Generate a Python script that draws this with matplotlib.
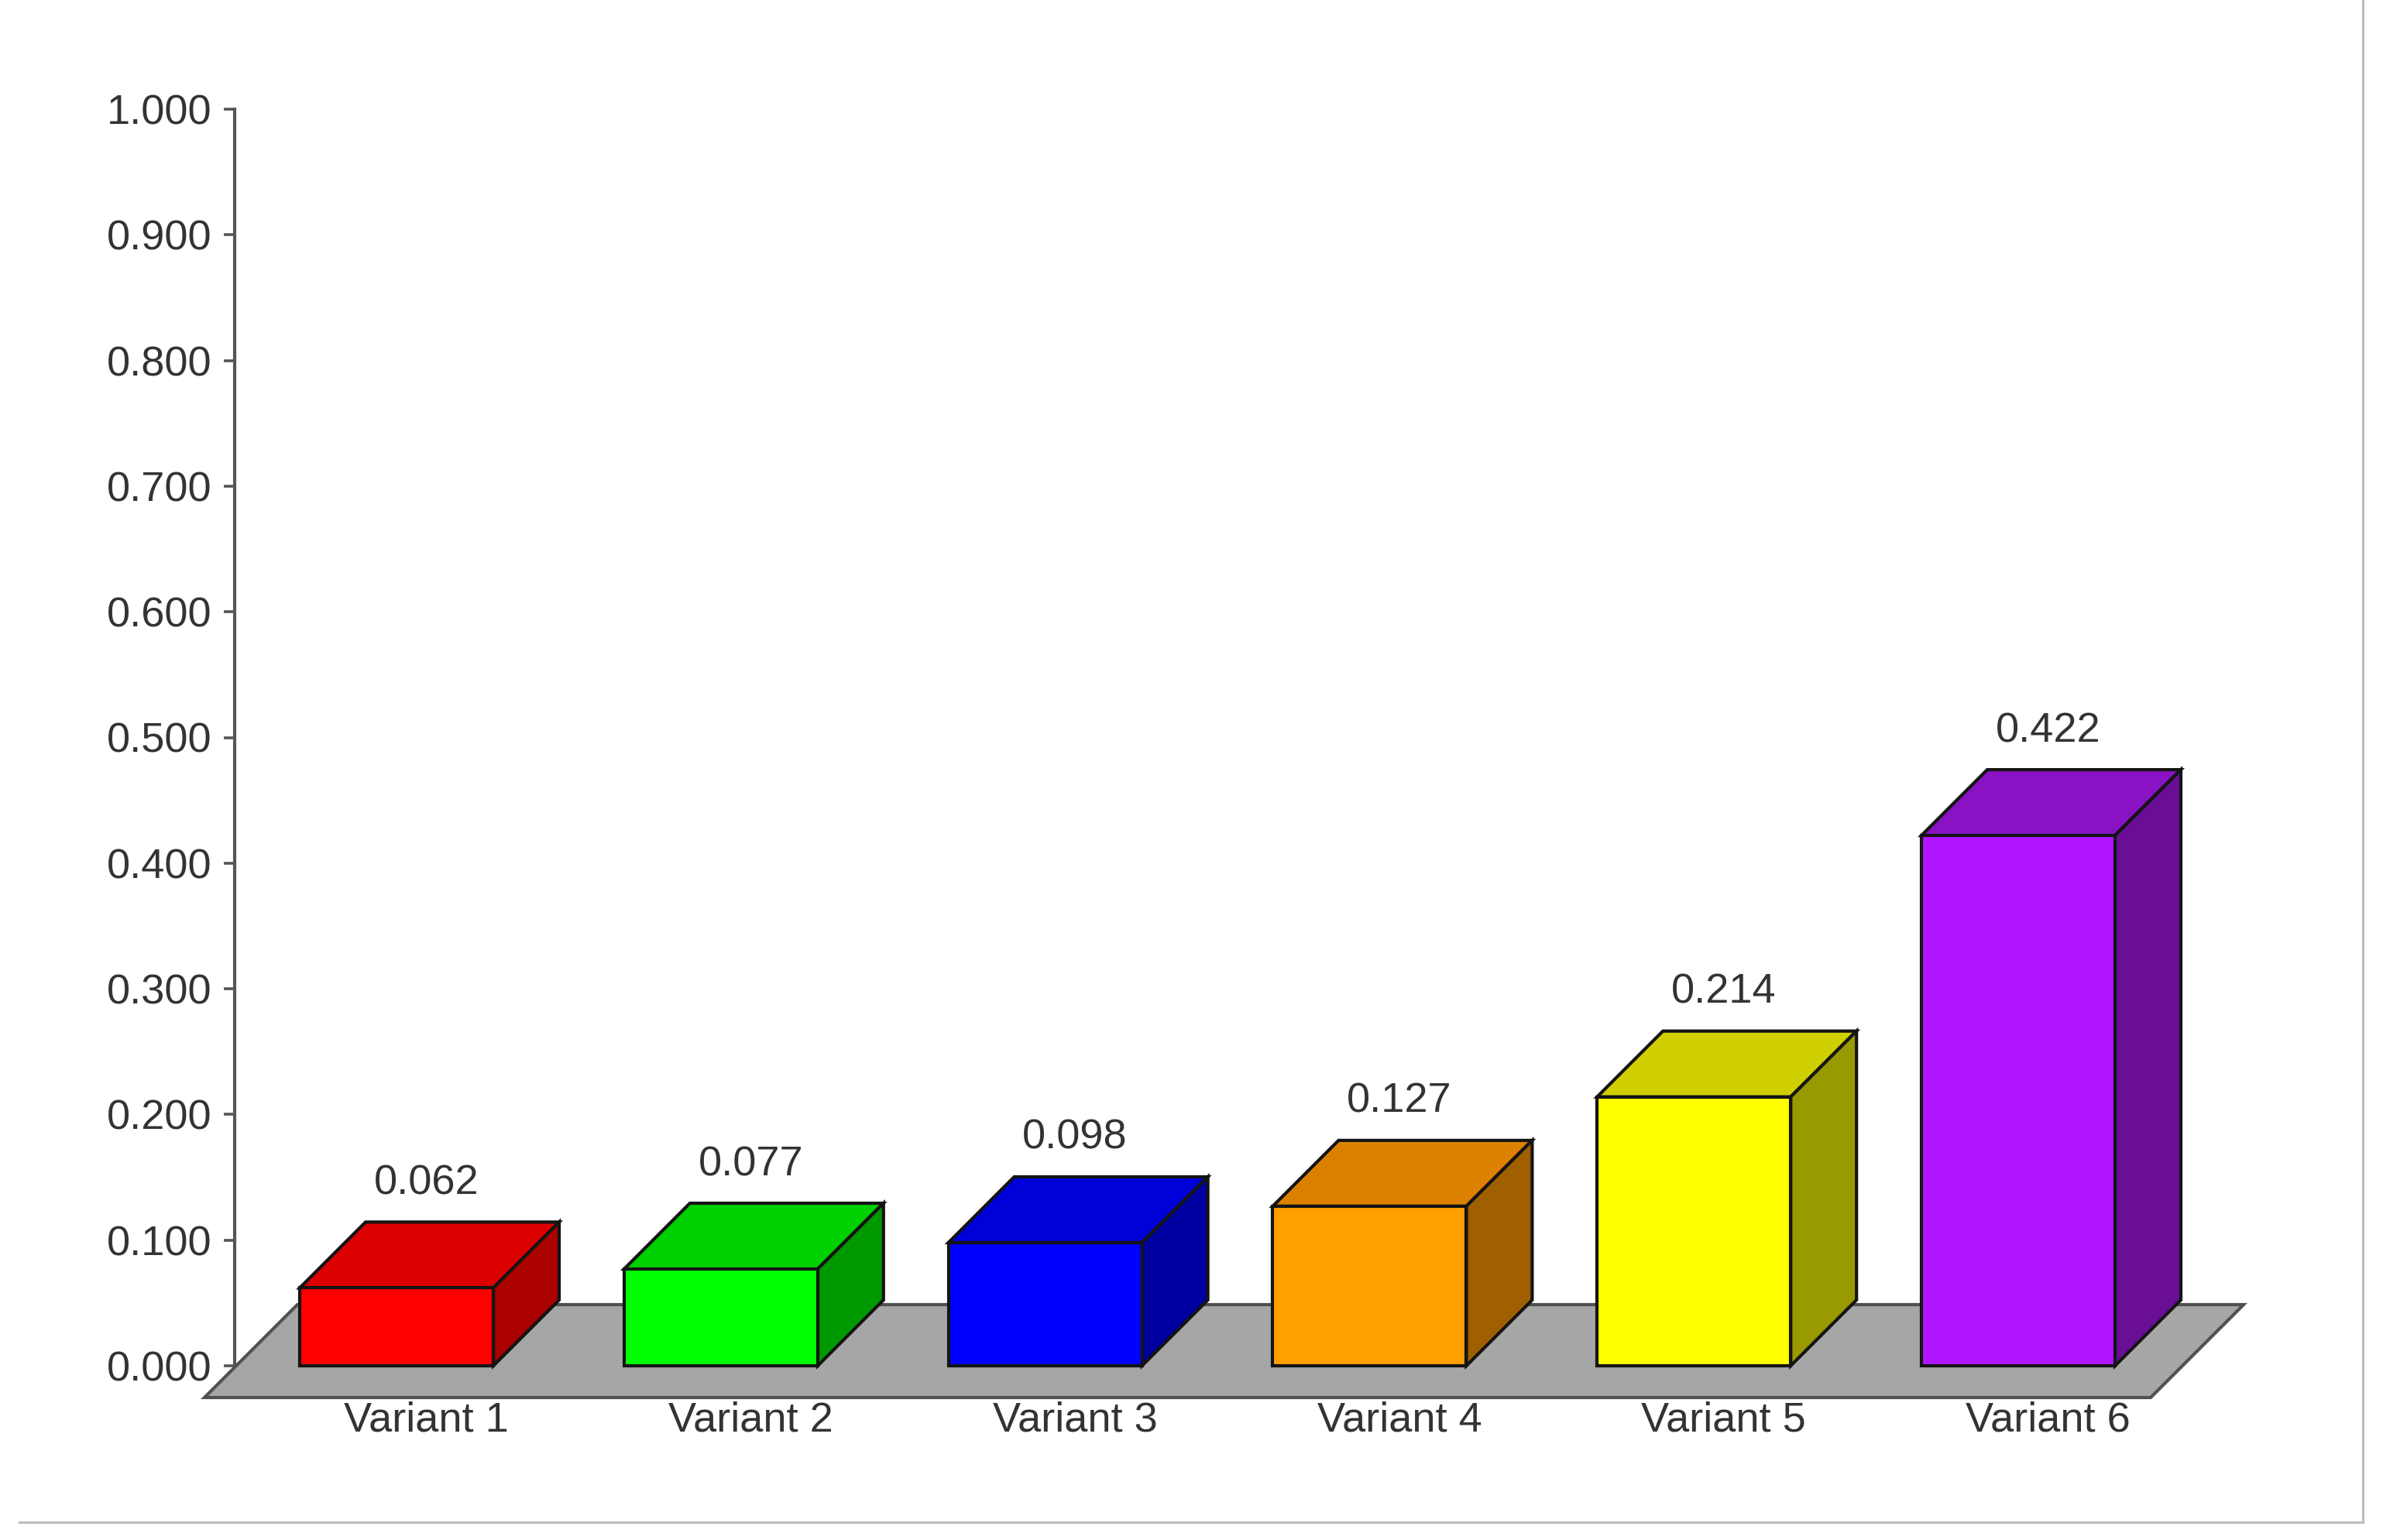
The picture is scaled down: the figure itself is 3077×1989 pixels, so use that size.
import matplotlib
matplotlib.use("Agg")
import matplotlib.pyplot as plt
from matplotlib.lines import Line2D
from matplotlib.patches import Polygon

variants = ["Variant 1", "Variant 2", "Variant 3", "Variant 4", "Variant 5", "Variant 6"]
values = [0.062, 0.077, 0.098, 0.127, 0.214, 0.422]
y_ticks = [0.0, 0.1, 0.2, 0.3, 0.4, 0.5, 0.6, 0.7, 0.8, 0.9, 1.0]

front_colors = ["#ff0000", "#00ff00", "#0000ff", "#ff9f00", "#ffff00", "#b016ff"]
top_colors = ["#dd0000", "#00d000", "#0000d8", "#dc8000", "#cfcf00", "#8a12c4"]
side_colors = ["#aa0000", "#009900", "#0000a0", "#a06000", "#999900", "#6a0e96"]

W, H = 3077, 1989
AX_LEFT, AX_TOP, AX_BOTTOM = 303, 141, 1764  # pixels
SLOT = 418.8   # pixels per category
BAR_W = 250 / SLOT
DEPTH_X = 85 / SLOT
DEPTH_Y = 85 / (AX_BOTTOM - AX_TOP)
FIRST_BAR = (387 - AX_LEFT) / SLOT
LABEL_SHIFT = -4 / SLOT

TEXT = "#333333"
EDGE = "#141414"
FONT = 39

plt.rcParams["font.family"] = ["Liberation Sans", "DejaVu Sans"]

fig = plt.figure(figsize=(W / 100, H / 100), dpi=100, facecolor="white")
ax = fig.add_axes((AX_LEFT / W, 1 - AX_BOTTOM / H, (W - AX_LEFT) / W,
                   (AX_BOTTOM - AX_TOP) / H))
ax.set_xlim(0, (W - AX_LEFT) / SLOT)
ax.set_ylim(0, 1)
ax.patch.set_visible(False)

for name in ["top", "right", "bottom"]:
    ax.spines[name].set_visible(False)
ax.spines["left"].set_color("#555555")
ax.spines["left"].set_linewidth(3)

# grey floor under the bars
span = (AX_BOTTOM - AX_TOP)
floor_front = -41 / span
floor_back = 79 / span
floor_dx = 120 / SLOT
floor_left = (264 - AX_LEFT) / SLOT
floor_right = (2777 - AX_LEFT) / SLOT
ax.add_patch(Polygon([(floor_left, floor_front), (floor_right, floor_front),
                      (floor_right + floor_dx, floor_back),
                      (floor_left + floor_dx, floor_back)],
                     closed=True, facecolor="#a6a6a6", edgecolor="#505050",
                     linewidth=3, clip_on=False, zorder=3))

lefts = [FIRST_BAR + i for i in range(len(values))]
centres = [x + (BAR_W + DEPTH_X) / 2 + LABEL_SHIFT for x in lefts]

ax.bar(lefts, values, width=BAR_W, align="edge", color=front_colors,
       edgecolor=EDGE, linewidth=3, zorder=5, clip_on=False)

for i, v in enumerate(values):
    x0 = lefts[i]
    x1 = x0 + BAR_W
    ax.add_patch(Polygon([(x0, v), (x1, v), (x1 + DEPTH_X, v + DEPTH_Y),
                          (x0 + DEPTH_X, v + DEPTH_Y)], closed=True,
                         facecolor=top_colors[i], edgecolor=EDGE,
                         linewidth=3, zorder=4, clip_on=False))
    ax.add_patch(Polygon([(x1, 0), (x1 + DEPTH_X, DEPTH_Y),
                          (x1 + DEPTH_X, v + DEPTH_Y), (x1, v)], closed=True,
                         facecolor=side_colors[i], edgecolor=EDGE,
                         linewidth=3, zorder=4, clip_on=False))
    ax.annotate("{:.3f}".format(v), (centres[i], v + DEPTH_Y), xytext=(0, 18),
                textcoords="offset points", ha="center", va="bottom",
                fontsize=FONT, color=TEXT, zorder=6)

ax.set_yticks(y_ticks)
ax.set_yticklabels(["{:.3f}".format(t) for t in y_ticks])
ax.tick_params(axis="y", length=10, width=2.6, color="#555555", pad=11,
               labelsize=FONT, labelcolor=TEXT)
ax.set_xticks(centres)
ax.set_xticklabels(variants)
ax.tick_params(axis="x", length=0, pad=33, labelsize=FONT, labelcolor=TEXT)

# thin frame lines of the screenshot
frame = "#bcbcbc"
fig.add_artist(Line2D([25 / W, 3051 / W], [1 - 1966 / H, 1 - 1966 / H],
                      color=frame, linewidth=2.2))
fig.add_artist(Line2D([3051 / W, 3051 / W], [1, 1 - 1966 / H],
                      color=frame, linewidth=2.2))

fig.savefig("out.png", dpi=100, facecolor="white")
